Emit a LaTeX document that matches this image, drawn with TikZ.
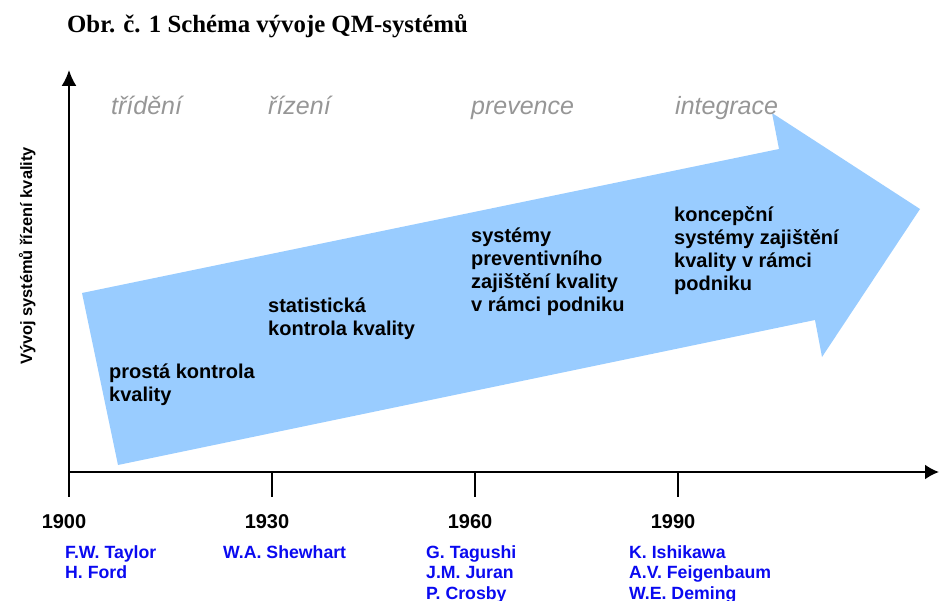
\documentclass[tikz,border=0pt]{standalone}
\usepackage{fontspec}
\setmainfont{Liberation Sans}
\newfontfamily\titlefont{Liberation Serif}
\usepackage{tikz}
\usetikzlibrary{arrows.meta}

\definecolor{arrowblue}{RGB}{153,204,255}
\definecolor{labelgray}{RGB}{150,150,150}
\definecolor{nameblue}{RGB}{10,10,240}

\begin{document}
\begin{tikzpicture}[x=1pt,y=-1pt,
    stage/.style={anchor=north west,align=left,inner sep=0pt,font=\fontsize{20}{23}\selectfont\bfseries},
    era/.style={anchor=base west,inner sep=0pt,text=labelgray,font=\fontsize{25}{28}\selectfont\itshape},
    year/.style={anchor=base,inner sep=0pt,font=\fontsize{20}{23}\selectfont\bfseries},
    names/.style={anchor=north west,align=left,inner sep=0pt,text=nameblue,font=\fontsize{17.7}{20.6}\selectfont\bfseries},
    axis/.style={line width=2pt}]
    \useasboundingbox (0,0) rectangle (939,601);

    % big arrow
    \fill[arrowblue] (118,465) -- (82,293) -- (779,149) -- (772,113) -- (920,209) -- (822,357) -- (815,320) -- cycle;

    % axes
    \coordinate (o) at (69,472);
    \coordinate (ytop) at (69,70);
    \coordinate (xend) at (939,472);
    \coordinate (t0) at (69,497);
    \coordinate (a1) at (272,472);
    \coordinate (t1) at (272,497);
    \coordinate (a2) at (475,472);
    \coordinate (t2) at (475,497);
    \coordinate (a3) at (678,472);
    \coordinate (t3) at (678,497);
    \draw[axis,-{Latex[length=16pt,width=15pt]}] (o) -- (ytop);
    \draw[axis,-{Latex[length=14pt,width=15pt]}] (o) -- (xend);
    \draw[axis] (o) -- (t0);
    \draw[axis] (a1) -- (t1);
    \draw[axis] (a2) -- (t2);
    \draw[axis] (a3) -- (t3);

    % title and axis label
    \node[anchor=base west,inner sep=0pt,font=\titlefont\fontsize{24.8}{28}\selectfont\bfseries] (title) at (67,33) {Obr. č. 1 Schéma vývoje QM-systémů};
    \node[anchor=base,rotate=90,inner sep=0pt,font=\fontsize{16.4}{19}\selectfont\bfseries] (ylabel) at (32,256) {Vývoj systémů řízení kvality};

    % eras
    \node[era] (e0) at (111,115) {třídění};
    \node[era] (e1) at (268,115) {řízení};
    \node[era] (e2) at (471,115) {prevence};
    \node[era] (e3) at (675,115) {integrace};

    % stages
    \node[stage] (s0) at (109,363.5) {prostá kontrola\\kvality};
    \node[stage] (s1) at (268,298) {statistická\\kontrola kvality};
    \node[stage] (s2) at (471,228) {systémy\\preventivního\\zajištění kvality\\v rámci podniku};
    \node[stage] (s3) at (674,206) {koncepční\\systémy zajištění\\kvality v rámci\\podniku};

    % years
    \node[year] (y0) at (64,528) {1900};
    \node[year] (y1) at (267,528) {1930};
    \node[year] (y2) at (470,528) {1960};
    \node[year] (y3) at (673,528) {1990};

    % people
    \node[names] (n0) at (65,545) {F.W. Taylor\\H. Ford};
    \node[names] (n1) at (223,545) {W.A. Shewhart};
    \node[names] (n2) at (426,545) {G. Tagushi\\J.M. Juran\\P. Crosby};
    \node[names] (n3) at (629,545) {K. Ishikawa\\A.V. Feigenbaum\\W.E. Deming};
\end{tikzpicture}
\end{document}
